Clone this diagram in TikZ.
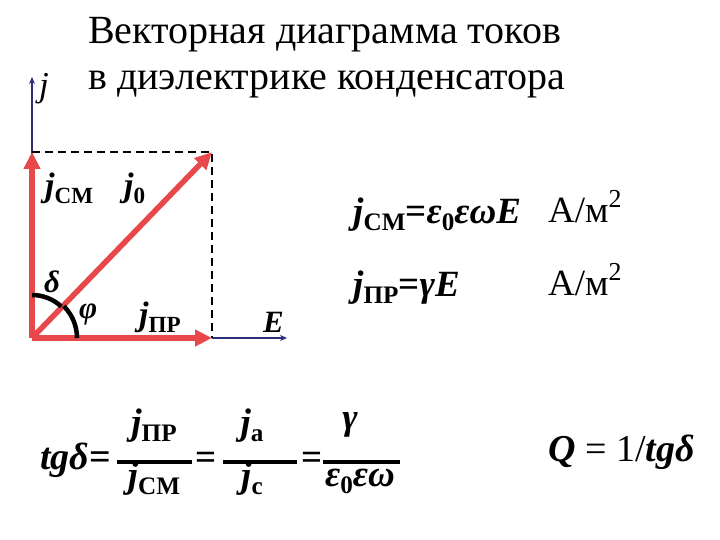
\documentclass[tikz,border=0pt]{standalone}
\usepackage{fontspec}
\usepackage{graphicx}
\setmainfont{Liberation Serif}
\usetikzlibrary{arrows.meta}
\definecolor{vred}{HTML}{E8484A}
\definecolor{axblue}{HTML}{2E2E7A}
\newcommand{\bi}[1]{\textbf{\textit{#1}}}
\newcommand{\sbx}[1]{\raisebox{-0.18em}{\scalebox{0.68}{\textbf{#1}}}}
\newcommand{\fs}[1]{\fontsize{#1}{#1}\selectfont}
\begin{document}
\begin{tikzpicture}[x=1pt,y=1pt,
  redvec/.style={draw=vred,line width=5.5pt,-{Triangle[length=17pt,width=16pt]}},
  axis/.style={draw=axblue,line width=1.6pt,-{Stealth[length=7pt,width=6pt]}},
  guide/.style={draw=black,line width=1.5pt,dash pattern=on 8pt off 5pt},
  anglearc/.style={draw=black,line width=4.5pt},
  lbl/.style={inner sep=0pt,anchor=base west},
  lblc/.style={inner sep=0pt,anchor=base},
  bar/.style={draw=black,line width=4.5pt}]
\useasboundingbox (0,0) rectangle (720,540);
\fill[white] (0,0) rectangle (720,540);
% coordinates
\coordinate (O) at (32,202);
\coordinate (H) at (212,202);
\coordinate (V) at (32,388);
\coordinate (D) at (212,388);
\coordinate (Yt) at (32,463);
\coordinate (Ex) at (287,202);
% axes
\draw[axis] (O) -- (Yt);
\draw[axis] (H) -- (Ex);
% guides
\draw[guide] (V) -- (D) -- (H);
% vectors
\draw[redvec] (O) -- (H);
\draw[redvec] (O) -- (V);
\draw[redvec] (O) -- (D);
% angle arcs
\draw[anglearc] (O) ++(90:43) arc[start angle=90,end angle=47,radius=43];
\draw[anglearc] (O) ++(45:45) arc[start angle=45,end angle=0,radius=45];
% title
\node[lbl] (t1) at (88,496) {\fs{40}Векторная диаграмма токов};
\node[lbl] (t2) at (88,450) {\fs{40}в диэлектрике конденсатора};
% diagram labels
\node[lbl] (jax) at (39,443) {\fs{35}\textit{j}};
\node[lbl] (jcm) at (45,343) {\fs{34}\bi{j}\sbx{CM}};
\node[lbl] (j0) at (124,343) {\fs{34}\bi{j}\sbx{0}};
\node[lbl] (del) at (44,247) {\fs{31}\bi{δ}};
\node[lbl] (phi) at (79,221) {\fs{31}\bi{φ}};
\node[lbl] (jpr) at (139,214) {\fs{34}\bi{j}\sbx{ПР}};
\node[lbl] (Elab) at (263,207) {\fs{31}\bi{E}};
% right formulas
\node[lbl] (f1) at (353,316) {\fs{37}\bi{j}\sbx{CM}\textbf{=}\bi{ε}\sbx{0}\bi{εωE}};
\node[lbl] (u1) at (548,317) {\fs{37}А/м\raisebox{0.42em}{\scalebox{0.7}{2}}};
\node[lbl] (f2) at (353,243) {\fs{37}\bi{j}\sbx{ПР}\textbf{=}\bi{γE}};
\node[lbl] (u2) at (548,244) {\fs{37}А/м\raisebox{0.42em}{\scalebox{0.7}{2}}};
% bottom formula
\node[lbl] (tg) at (40,70) {\fs{38}\bi{tgδ}\textbf{=}};
\coordinate (b1l) at (117,78); \coordinate (b1r) at (192,78);
\draw[bar] (b1l) -- (b1r);
\node[lblc] (n1) at (154,105) {\fs{37}\bi{j}\sbx{ПР}};
\node[lblc] (d1) at (154,52) {\fs{37}\bi{j}\sbx{CM}};
\node[lblc] (e2) at (206,70) {\fs{37}\textbf{=}};
\coordinate (b2l) at (223,78); \coordinate (b2r) at (297,78);
\draw[bar] (b2l) -- (b2r);
\node[lblc] (n2) at (252,105) {\fs{37}\bi{j}\sbx{a}};
\node[lblc] (d2) at (252,52) {\fs{37}\bi{j}\sbx{c}};
\node[lblc] (e3) at (312,70) {\fs{37}\textbf{=}};
\coordinate (b3l) at (323,78); \coordinate (b3r) at (400,78);
\draw[bar] (b3l) -- (b3r);
\node[lblc] (n3) at (350,110) {\fs{37}\bi{γ}};
\node[lblc] (d3) at (360,53) {\fs{37}\bi{ε}\sbx{0}\bi{εω}};
\node[lbl] (Q) at (548,78) {\fs{38}\bi{Q} = 1/\bi{tgδ}};
\end{tikzpicture}
\end{document}
